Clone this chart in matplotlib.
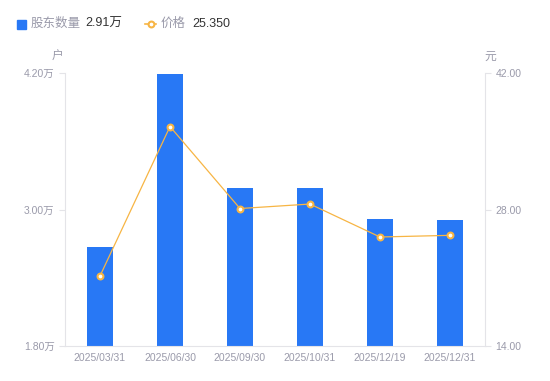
import numpy as np
import matplotlib.pyplot as plt
from matplotlib.lines import Line2D
from matplotlib.patches import Rectangle

plt.rcParams['font.family'] = ['Liberation Sans', 'Noto Sans CJK SC', 'DejaVu Sans']

fechas = ['2025/03/31', '2025/06/30', '2025/09/30', '2025/10/31', '2025/12/19', '2025/12/31']
accionistas = [2.67, 4.19, 3.19, 3.19, 2.92, 2.91]   # 万户
precio = [21.18, 36.51, 28.10, 28.56, 25.18, 25.35]   # 元

azul = '#2878F5'
naranja = '#F7B544'
gris = '#9A9AAA'
linea = '#E4E4E8'

fig = plt.figure(figsize=(5.5, 3.81), dpi=100)
ax = fig.add_axes([65 / 550, 35 / 381, 420 / 550, 273 / 381])
ax2 = ax.twinx()

x = np.arange(len(fechas))
ax.bar(x, accionistas, width=0.36, color=azul, zorder=2)
ax.set_xlim(-0.5, len(fechas) - 0.5)
ax.set_ylim(1.8, 4.2)
ax.set_yticks([1.8, 3.0, 4.2])
ax.set_yticklabels(['1.80万', '3.00万', '4.20万'])
ax.set_xticks(x)
ax.set_xticklabels(fechas)

ax2.plot(x, precio, color=naranja, linewidth=0.9, marker='o', markersize=4.2,
         markerfacecolor='white', markeredgecolor=naranja, markeredgewidth=1.5, zorder=3)
ax2.set_ylim(14, 42)
ax2.set_yticks([14, 28, 42])
ax2.set_yticklabels(['14.00', '28.00', '42.00'])

for a in (ax, ax2):
    for s in a.spines.values():
        s.set_visible(False)
    a.tick_params(colors=gris, labelsize=7.5, length=4, width=0.8)
    a.tick_params(axis='y', color=linea)
ax.tick_params(axis='x', length=0, pad=5)
ax.spines['left'].set_visible(True)
ax.spines['left'].set_color(linea)
ax.spines['bottom'].set_visible(True)
ax.spines['bottom'].set_color(linea)
ax2.spines['right'].set_visible(True)
ax2.spines['right'].set_color(linea)

fig.text(58 / 550, 1 - 57 / 381, '户', color=gris, fontsize=8.5, ha='center', va='center')
fig.text(490 / 550, 1 - 57 / 381, '元', color=gris, fontsize=8.5, ha='center', va='center')

# leyenda
fig.patches.append(Rectangle((17 / 550, 1 - 29 / 381), 9 / 550, 9 / 381,
                             transform=fig.transFigure, color=azul, figure=fig))
fig.text(31 / 550, 1 - 24 / 381, '股东数量', color=gris, fontsize=9, va='center')
fig.text(85 / 550, 1 - 24 / 381, '2.91万', color='#333333', fontsize=9, va='center')
fig.lines.append(Line2D([145 / 550, 156 / 550], [1 - 24 / 381, 1 - 24 / 381],
                        transform=fig.transFigure, color=naranja, linewidth=1.2, figure=fig))
fig.lines.append(Line2D([150.5 / 550], [1 - 24 / 381], transform=fig.transFigure,
                        marker='o', markersize=4.2, markerfacecolor='white',
                        markeredgecolor=naranja, markeredgewidth=1.5, figure=fig))
fig.text(161 / 550, 1 - 24 / 381, '价格', color=gris, fontsize=9, va='center')
fig.text(192 / 550, 1 - 24 / 381, '25.350', color='#333333', fontsize=9, va='center')

fig.savefig('out.png', dpi=100)
